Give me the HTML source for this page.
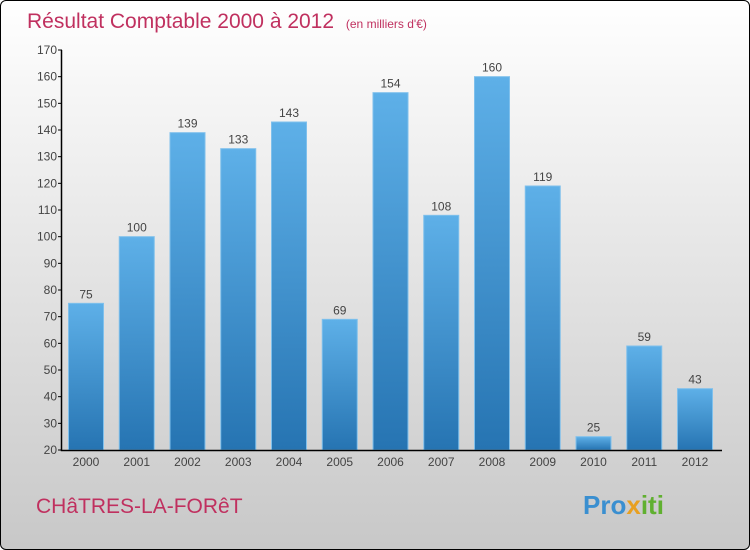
<!DOCTYPE html>
<html><head><meta charset="utf-8"><style>
body{margin:0;width:750px;height:550px;overflow:hidden;font-family:"Liberation Sans",sans-serif}
#frame{position:absolute;left:0;top:0;width:748px;height:548px;border:1px solid #000;border-radius:6px;background:linear-gradient(#ffffff,#c8c8c8)}
</style></head><body>
<div id="frame"></div>
<svg width="750" height="550" style="position:absolute;left:0;top:0">
<defs><linearGradient id="bg" x1="0" y1="0" x2="0" y2="1"><stop offset="0" stop-color="#5eb0e8"/><stop offset="1" stop-color="#2674b2"/></linearGradient></defs>
<text x="27" y="28" font-size="21" fill="#c0305f">Résultat Comptable 2000 à 2012 <tspan font-size="12" dx="6">(en milliers d'€)</tspan></text>
<g id="plot"></g>
<text x="36" y="513" font-size="21" fill="#c0305f">CHâTRES-LA-FORêT</text>
<text x="583" y="514" font-size="26" font-weight="bold"><tspan fill="#3a8fd0">Pro</tspan><tspan fill="#e8a020">x</tspan><tspan fill="#60b030">iti</tspan></text>
</svg>
<script>
const years=["2000","2001","2002","2003","2004","2005","2006","2007","2008","2009","2010","2011","2012"];
const values=[75,100,139,133,143,69,154,108,160,119,25,59,43];
const yTicks=[20,30,40,50,60,70,80,90,100,110,120,130,140,150,160,170];
const NS="http://www.w3.org/2000/svg",g=document.getElementById('plot');
const y0=450,y1=50,vmin=20,vmax=170;
const Y=v=>y0-(v-vmin)/(vmax-vmin)*(y0-y1);
const X=i=>86+i*50.75;
function mk(t,a){const e=document.createElementNS(NS,t);for(const k in a)e.setAttribute(k,a[k]);g.appendChild(e);return e;}
yTicks.forEach(v=>{
 const l=mk('line',{x1:58,x2:62,y1:Y(v),y2:Y(v),stroke:'#000'});
 
 
 const t=mk('text',{x:57,y:Y(v)+4,'font-size':12,fill:'#444','text-anchor':'end'});t.textContent=v;
 
 
});
values.forEach((v,i)=>{
 const r=mk('rect',{x:X(i)-17.5,y:Y(v),width:35,height:y0-Y(v),fill:'url(#bg)',stroke:'#7fc0ec','stroke-width':1});
 
 
 const t=mk('text',{x:X(i),y:Y(v)-5,'font-size':12,fill:'#444','text-anchor':'middle'});t.textContent=v;
 
 
 const yl=mk('text',{x:X(i),y:466,'font-size':12,fill:'#444','text-anchor':'middle'});yl.textContent=years[i];
 
 
});
const ax=mk('path',{d:'M61.5,50V450.5H722',stroke:'#000',fill:'none','stroke-width':1.5});


</script>
</body></html>
